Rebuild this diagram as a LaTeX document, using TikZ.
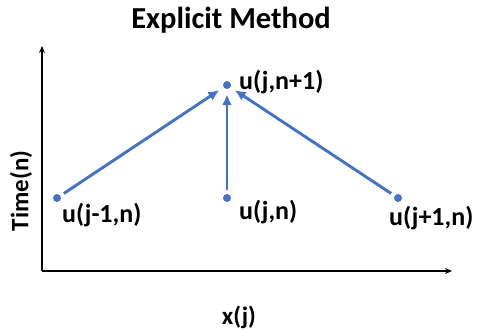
\documentclass[tikz,border=0pt]{standalone}
\usepackage{fontspec}
\setmainfont{Carlito}
\usepackage{tikz}
\usetikzlibrary{
  arrows.meta,
  positioning,
}
\definecolor{stencil}{HTML}{4472C4}
\tikzset{
  gridpt/.style={
    circle, fill=stencil, inner sep=0pt, minimum size=8pt,
  },
  ptlabel/.style={
    font=\fontsize{26}{29}\selectfont\bfseries, inner sep=0pt,
  },
  axislabel/.style={
    font=\fontsize{25}{28}\selectfont\bfseries, inner sep=0pt,
  },
  axisline/.style={
    -{Stealth[length=7pt,width=6pt]}, line width=1.6pt, draw=black,
  },
  arrowStencil/.style={
    -{Latex[length=11pt,width=10pt]}, line width=2.9pt, draw=stencil,
    shorten <=4pt, shorten >=5pt,
  },
}
\begin{document}
\begin{tikzpicture}[x=1pt,y=-1pt]
\useasboundingbox (0,0) rectangle (480,332);
% axes
\coordinate (origin) at (42,271);
\coordinate (ytop) at (42,46);
\coordinate (xend) at (452,271);
\draw[axisline] (origin) -- (ytop);
\draw[axisline] (origin) -- (xend);
% grid points
\node[gridpt] (unext) at (227,85) {};
\node[gridpt] (uleft) at (57,198) {};
\node[gridpt] (umid) at (227,198) {};
\node[gridpt] (uright) at (398,198) {};
% labels
\node[ptlabel, anchor=west] (lnext) at (239,82) {u(j,n+1)};
\node[ptlabel, anchor=west] (lleft) at (62,215) {u(j-1,n)};
\node[ptlabel, anchor=west] (lmid) at (239,212) {u(j,n)};
\node[ptlabel, anchor=west] (lright) at (389,218) {u(j+1,n)};
% stencil arrows
\draw[arrowStencil] (uleft) -- (unext);
\draw[arrowStencil] (umid) -- (unext);
\draw[arrowStencil] (uright) -- (unext);
% titles
\node[font=\fontsize{30.5}{33}\selectfont\bfseries] (title) at (231,20) {Explicit Method};
\node[axislabel, rotate=90] (ylab) at (21,191) {Time(n)};
\node[axislabel] (xlab) at (239,317) {x(j)};
\end{tikzpicture}
\end{document}
